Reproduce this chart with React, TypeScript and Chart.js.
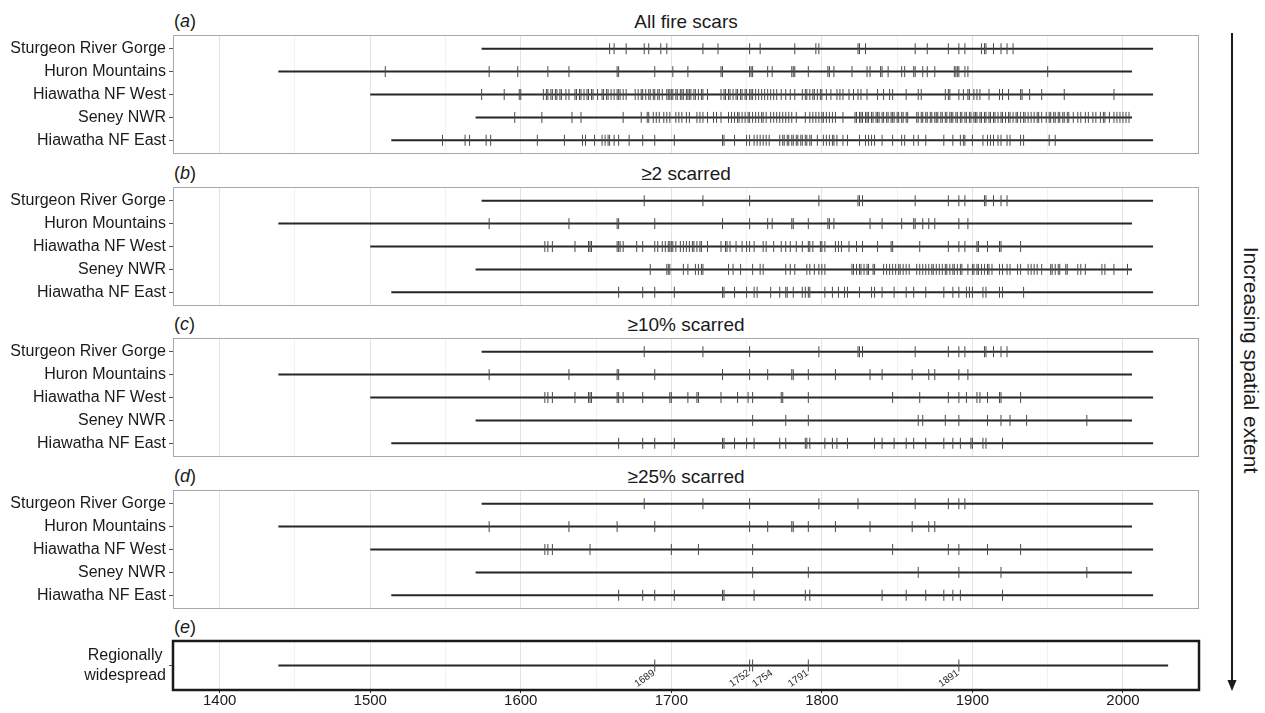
import React, { useEffect, useRef } from "react";
import { Chart, registerables } from "chart.js";

Chart.register(...registerables);

// ---------------- data ----------------
const SITES = [
  "Sturgeon River Gorge",
  "Huron Mountains",
  "Hiawatha NF West",
  "Seney NWR",
  "Hiawatha NF East",
];
const SITE_FIRST_YEAR = [1574, 1439, 1500, 1570, 1514];
const SITE_LAST_YEAR = [2020, 2006, 2020, 2006, 2020];

const PANEL_LETTERS = ["a", "b", "c", "d", "e"];
const PANEL_TITLES = ["All fire scars", "≥2 scarred", "≥10% scarred", "≥25% scarred", ""];

// (a) all fire scars
const ALL_SRG = [1659, 1662, 1670, 1682, 1685, 1693, 1697, 1721, 1731, 1752, 1759, 1782, 1796, 1798, 1824, 1825, 1829, 1862, 1870, 1884, 1891, 1895, 1906, 1908, 1909, 1914, 1919, 1923, 1927];
const ALL_HUR = [1510, 1579, 1598, 1618, 1632, 1664, 1665, 1689, 1701, 1711, 1733, 1734, 1752, 1753, 1754, 1764, 1767, 1780, 1781, 1782, 1791, 1804, 1805, 1808, 1820, 1830, 1832, 1839, 1840, 1844, 1853, 1855, 1861, 1862, 1867, 1870, 1875, 1888, 1889, 1890, 1891, 1895, 1897, 1950];
const ALL_HNW = [1574, 1589, 1599, 1600, 1615, 1617, 1618, 1620, 1621, 1623, 1624, 1626, 1627, 1630, 1632, 1636, 1637, 1639, 1640, 1642, 1644, 1645, 1647, 1648, 1651, 1654, 1655, 1657, 1658, 1660, 1662, 1664, 1665, 1666, 1668, 1670, 1676, 1678, 1680, 1681, 1683, 1685, 1686, 1688, 1689, 1691, 1692, 1694, 1697, 1698, 1699, 1700, 1701, 1703, 1704, 1706, 1707, 1708, 1710, 1711, 1712, 1713, 1715, 1716, 1718, 1720, 1721, 1724, 1733, 1735, 1736, 1738, 1739, 1741, 1743, 1744, 1746, 1747, 1749, 1750, 1752, 1753, 1754, 1756, 1758, 1760, 1762, 1764, 1766, 1768, 1770, 1773, 1776, 1779, 1782, 1787, 1789, 1790, 1792, 1794, 1795, 1797, 1799, 1800, 1803, 1806, 1810, 1812, 1814, 1818, 1821, 1824, 1826, 1830, 1837, 1841, 1845, 1847, 1856, 1864, 1866, 1882, 1884, 1885, 1891, 1894, 1897, 1898, 1901, 1903, 1905, 1911, 1918, 1920, 1924, 1932, 1933, 1938, 1946, 1961, 1994];
const ALL_SEN = [1596, 1614, 1634, 1640, 1668, 1680, 1684, 1685, 1688, 1690, 1692, 1695, 1697, 1699, 1703, 1705, 1707, 1710, 1712, 1717, 1719, 1721, 1724, 1728, 1730, 1733, 1738, 1740, 1742, 1744, 1745, 1747, 1749, 1751, 1752, 1754, 1756, 1758, 1760, 1761, 1763, 1766, 1768, 1770, 1772, 1774, 1776, 1778, 1780, 1783, 1789, 1792, 1794, 1796, 1798, 1800, 1801, 1803, 1805, 1807, 1809, 1814, 1822, 1823, 1825, 1826, 1827, 1829, 1830, 1831, 1833, 1834, 1836, 1837, 1838, 1840, 1841, 1843, 1844, 1846, 1847, 1848, 1850, 1851, 1853, 1854, 1856, 1857, 1863, 1864, 1866, 1867, 1869, 1870, 1872, 1873, 1875, 1876, 1877, 1879, 1880, 1882, 1883, 1885, 1886, 1887, 1889, 1890, 1892, 1893, 1895, 1896, 1898, 1899, 1901, 1902, 1903, 1905, 1906, 1908, 1909, 1911, 1912, 1914, 1915, 1917, 1919, 1920, 1922, 1924, 1925, 1927, 1929, 1930, 1932, 1934, 1935, 1937, 1939, 1941, 1943, 1944, 1946, 1949, 1951, 1952, 1954, 1955, 1957, 1958, 1960, 1961, 1963, 1964, 1967, 1970, 1972, 1975, 1977, 1980, 1982, 1985, 1987, 1988, 1991, 1994, 1996, 1998, 2000, 2002, 2004];
const ALL_HNE = [1548, 1563, 1566, 1577, 1580, 1611, 1629, 1641, 1643, 1649, 1654, 1656, 1658, 1659, 1662, 1665, 1672, 1681, 1689, 1702, 1734, 1735, 1742, 1750, 1752, 1755, 1757, 1759, 1761, 1763, 1765, 1772, 1774, 1775, 1777, 1778, 1780, 1781, 1783, 1784, 1786, 1787, 1789, 1790, 1792, 1793, 1797, 1801, 1803, 1805, 1807, 1808, 1810, 1814, 1817, 1825, 1829, 1831, 1833, 1835, 1840, 1847, 1853, 1855, 1861, 1864, 1869, 1881, 1887, 1892, 1894, 1895, 1900, 1907, 1910, 1912, 1914, 1917, 1919, 1923, 1925, 1932, 1934, 1951, 1955];

// (b) >= 2 trees scarred
const TWO_SRG = [1682, 1721, 1752, 1798, 1824, 1825, 1827, 1862, 1884, 1891, 1895, 1908, 1909, 1914, 1919, 1923];
const TWO_HUR = [1579, 1632, 1664, 1665, 1689, 1734, 1752, 1764, 1767, 1780, 1781, 1791, 1804, 1805, 1808, 1832, 1840, 1853, 1861, 1862, 1867, 1871, 1875, 1891, 1897];
const TWO_HNW = [1616, 1618, 1621, 1636, 1645, 1646, 1647, 1664, 1665, 1666, 1668, 1677, 1681, 1689, 1691, 1694, 1696, 1698, 1699, 1700, 1701, 1703, 1706, 1708, 1710, 1712, 1714, 1715, 1717, 1719, 1720, 1724, 1733, 1736, 1737, 1739, 1743, 1747, 1750, 1752, 1755, 1761, 1763, 1768, 1773, 1776, 1779, 1783, 1787, 1791, 1792, 1794, 1799, 1800, 1802, 1809, 1811, 1813, 1818, 1823, 1827, 1837, 1846, 1847, 1865, 1884, 1891, 1895, 1903, 1904, 1910, 1918, 1919, 1932];
const TWO_SEN = [1686, 1697, 1698, 1699, 1708, 1711, 1716, 1718, 1720, 1721, 1738, 1741, 1746, 1754, 1759, 1761, 1776, 1779, 1782, 1790, 1792, 1795, 1798, 1800, 1802, 1820, 1821, 1823, 1825, 1826, 1828, 1830, 1831, 1834, 1835, 1841, 1843, 1845, 1847, 1849, 1851, 1852, 1854, 1856, 1858, 1863, 1865, 1867, 1869, 1871, 1873, 1874, 1876, 1878, 1880, 1882, 1883, 1885, 1887, 1888, 1890, 1892, 1893, 1897, 1900, 1901, 1903, 1904, 1906, 1908, 1910, 1911, 1913, 1918, 1920, 1923, 1925, 1930, 1932, 1937, 1939, 1941, 1943, 1946, 1952, 1953, 1955, 1957, 1958, 1962, 1963, 1970, 1972, 1975, 1986, 1988, 1994, 2003];
const TWO_HNE = [1665, 1681, 1689, 1702, 1734, 1735, 1742, 1750, 1755, 1757, 1766, 1772, 1776, 1777, 1781, 1787, 1789, 1791, 1792, 1802, 1807, 1811, 1815, 1817, 1825, 1833, 1835, 1840, 1848, 1856, 1861, 1869, 1881, 1887, 1891, 1896, 1898, 1900, 1907, 1909, 1918, 1920, 1934];

// (c) >= 10% scarred
const TEN_SRG = [1682, 1721, 1752, 1798, 1824, 1825, 1827, 1862, 1884, 1891, 1895, 1908, 1909, 1914, 1919, 1923];
const TEN_HUR = [1579, 1632, 1664, 1665, 1689, 1734, 1752, 1764, 1780, 1781, 1791, 1809, 1832, 1840, 1860, 1871, 1875, 1891, 1897];
const TEN_HNW = [1616, 1618, 1621, 1636, 1645, 1646, 1647, 1664, 1665, 1668, 1681, 1699, 1700, 1711, 1717, 1718, 1733, 1744, 1751, 1754, 1773, 1774, 1791, 1847, 1865, 1884, 1891, 1896, 1903, 1905, 1910, 1918, 1919, 1932];
const TEN_SEN = [1754, 1776, 1791, 1864, 1867, 1882, 1891, 1910, 1919, 1925, 1936, 1976];
const TEN_HNE = [1665, 1681, 1689, 1702, 1734, 1735, 1742, 1750, 1755, 1772, 1776, 1789, 1790, 1792, 1802, 1807, 1810, 1817, 1835, 1840, 1848, 1856, 1861, 1869, 1881, 1887, 1892, 1899, 1900, 1907, 1909, 1920];

// (d) >= 25% scarred
const QTR_SRG = [1682, 1721, 1752, 1798, 1824, 1862, 1884, 1891, 1895];
const QTR_HUR = [1579, 1632, 1664, 1689, 1752, 1764, 1780, 1781, 1791, 1809, 1832, 1860, 1871, 1875];
const QTR_HNW = [1616, 1618, 1621, 1646, 1700, 1718, 1754, 1847, 1884, 1891, 1910, 1932];
const QTR_SEN = [1754, 1791, 1864, 1891, 1919, 1976];
const QTR_HNE = [1665, 1681, 1689, 1702, 1734, 1735, 1755, 1789, 1792, 1840, 1856, 1869, 1881, 1887, 1892, 1920];

// (e) regionally widespread
const REGIONAL_LABEL = ["Regionally", "widespread"];
const REGIONAL_FIRST_YEAR = 1439;
const REGIONAL_LAST_YEAR = 2030;
const REGIONAL_EVENTS = [1689, 1752, 1754, 1791, 1891];

const X_GRID_YEARS = [1400, 1450, 1500, 1550, 1600, 1650, 1700, 1750, 1800, 1850, 1900, 1950, 2000];
const X_TICK_LABELS = [1400, 1500, 1600, 1700, 1800, 1900, 2000];
const ARROW_LABEL = "Increasing spatial extent";

// ---------------- styling ----------------
const FONT = '"Liberation Sans", Arial, Helvetica, sans-serif';
const X_MIN = 1369;
const X_MAX = 2050.5;
const AXIS_W = 173;
const PLOT_RIGHT = 1199;
const PAD = 3;
const LABELS_RIGHT_OF_TICK = new Set([1754]);

type PanelProps = {
  top: number;
  boxHeight: number;
  labels: (string | string[])[];
  rows: number[][];
  starts: number[];
  ends: number[];
  regional?: boolean;
};

function FirePanel({ top, boxHeight, labels, rows, starts, ends, regional }: PanelProps) {
  const ref = useRef<HTMLCanvasElement | null>(null);
  const xAxisH = regional ? 24 : 0;
  const canvasW = PLOT_RIGHT + PAD;
  const canvasH = boxHeight + PAD + (regional ? xAxisH : PAD);

  useEffect(() => {
    const canvas = ref.current;
    if (!canvas) return;
    const n = labels.length;
    const datasets: any[] = [];
    for (let i = 0; i < n; i++) {
      datasets.push({
        data: [
          { x: starts[i], y: i + 1 },
          { x: ends[i], y: i + 1 },
        ],
        showLine: true,
        borderColor: "#262626",
        borderWidth: 2,
        pointRadius: 0,
        pointHoverRadius: 0,
        order: 2,
      });
      datasets.push({
        data: rows[i].map((yr) => ({ x: yr, y: i + 1 })),
        showLine: false,
        pointStyle: "line",
        pointRotation: 90,
        pointRadius: regional ? 6 : 5.5,
        pointBorderWidth: 1,
        pointBorderColor: "#4a4a4a",
        pointBackgroundColor: "rgba(0,0,0,0)",
        order: 1,
      });
    }

    const borderPlugin = {
      id: "panelBorder",
      afterDraw(chart: any) {
        const { ctx, chartArea: a } = chart;
        ctx.save();
        if (regional) {
          ctx.strokeStyle = "#1a1a1a";
          ctx.lineWidth = 2.5;
          ctx.strokeRect(a.left, a.top, a.right - a.left, a.bottom - a.top);
          const yPix = chart.scales.y.getPixelForValue(1);
          ctx.font = `10px ${FONT}`;
          ctx.fillStyle = "#1a1a1a";
          ctx.textAlign = "center";
          ctx.textBaseline = "middle";
          rows[0].forEach((yr) => {
            const px = chart.scales.x.getPixelForValue(yr);
            const side = LABELS_RIGHT_OF_TICK.has(yr) ? 1 : -1;
            ctx.save();
            ctx.translate(px + side * 10, yPix + 13);
            ctx.rotate((-35 * Math.PI) / 180);
            ctx.fillText(String(yr), 0, 0);
            ctx.restore();
          });
        } else {
          ctx.strokeStyle = "#a8a8a8";
          ctx.lineWidth = 1;
          ctx.strokeRect(a.left + 0.5, a.top + 0.5, a.right - a.left - 1, a.bottom - a.top - 1);
        }
        ctx.restore();
      },
    };

    const chart = new Chart(canvas, {
      type: "scatter",
      data: { datasets },
      options: {
        animation: false,
        responsive: false,
        devicePixelRatio: 1,
        events: [],
        layout: {
          autoPadding: false,
          padding: { top: PAD, right: PAD, bottom: regional ? 0 : PAD, left: 0 },
        },
        plugins: { legend: { display: false }, tooltip: { enabled: false }, title: { display: false } },
        scales: {
          x: {
            type: "linear",
            min: X_MIN,
            max: X_MAX,
            afterBuildTicks: (s: any) => {
              s.ticks = X_GRID_YEARS.map((v) => ({ value: v }));
            },
            afterFit: (s: any) => {
              s.height = xAxisH;
              s.paddingLeft = 0;
              s.paddingRight = 0;
              s.paddingTop = 0;
              s.paddingBottom = 0;
            },
            ticks: {
              display: !!regional,
              autoSkip: false,
              maxRotation: 0,
              padding: -1,
              color: "#1a1a1a",
              font: { family: FONT, size: 15 },
              callback: (v: any) => (X_TICK_LABELS.includes(Number(v)) ? String(v) : ""),
            },
            grid: {
              color: (c: any) => (c.tick && c.tick.value % 100 === 0 ? "#e4e4e4" : "#f1f1f1"),
              lineWidth: 1,
              drawTicks: !!regional,
              tickLength: 3,
              tickColor: (c: any) => (c.tick && c.tick.value % 100 === 0 ? "#333333" : "rgba(0,0,0,0)"),
            },
            border: { display: false },
          },
          y: {
            type: "linear",
            reverse: true,
            min: 0.4,
            max: n + 0.6,
            afterBuildTicks: (s: any) => {
              s.ticks = labels.map((_, i) => ({ value: i + 1 }));
            },
            afterFit: (s: any) => {
              s.width = AXIS_W;
              s.paddingTop = 0;
              s.paddingBottom = 0;
              s.paddingLeft = 0;
              s.paddingRight = 0;
            },
            ticks: {
              autoSkip: false,
              padding: 3,
              color: "#1a1a1a",
              crossAlign: regional ? "center" : "near",
              font: { family: FONT, size: 16, lineHeight: 1.2 },
              callback: (_v: any, idx: number) => labels[idx] as any,
            },
            grid: {
              drawOnChartArea: false,
              drawTicks: true,
              tickLength: 4,
              tickColor: "#555555",
            },
            border: { display: false },
          },
        },
      } as any,
      plugins: [borderPlugin],
    });
    return () => chart.destroy();
  }, []);

  return (
    <canvas
      ref={ref}
      width={canvasW}
      height={canvasH}
      style={{ position: "absolute", left: 0, top: top - PAD, width: canvasW, height: canvasH }}
    />
  );
}

const PANEL_TOPS = [35, 187, 338, 490, 641];
const PANEL_BOX_H = [119, 119, 119, 119, 49];

export default function App() {
  const siteRows = [
    [ALL_SRG, ALL_HUR, ALL_HNW, ALL_SEN, ALL_HNE],
    [TWO_SRG, TWO_HUR, TWO_HNW, TWO_SEN, TWO_HNE],
    [TEN_SRG, TEN_HUR, TEN_HNW, TEN_SEN, TEN_HNE],
    [QTR_SRG, QTR_HUR, QTR_HNW, QTR_SEN, QTR_HNE],
  ];
  const textBase: React.CSSProperties = {
    position: "absolute",
    fontFamily: FONT,
    color: "#1a1a1a",
    whiteSpace: "nowrap",
    lineHeight: 1,
  };
  return (
    <div
      style={{
        position: "fixed",
        left: 0,
        top: 0,
        width: 1265,
        height: 713,
        background: "#ffffff",
        overflow: "hidden",
      }}
    >
      {siteRows.map((rows, p) => (
        <FirePanel
          key={p}
          top={PANEL_TOPS[p]}
          boxHeight={PANEL_BOX_H[p]}
          labels={SITES}
          rows={rows}
          starts={SITE_FIRST_YEAR}
          ends={SITE_LAST_YEAR}
        />
      ))}
      <FirePanel
        top={PANEL_TOPS[4]}
        boxHeight={PANEL_BOX_H[4]}
        labels={[REGIONAL_LABEL]}
        rows={[REGIONAL_EVENTS]}
        starts={[REGIONAL_FIRST_YEAR]}
        ends={[REGIONAL_LAST_YEAR]}
        regional
      />
      {PANEL_LETTERS.map((l, p) => (
        <div
          key={"l" + l}
          style={{ ...textBase, left: 174, top: PANEL_TOPS[p] - 14.5, transform: "translateY(-50%)", fontSize: 18 }}
        >
          (<i>{l}</i>)
        </div>
      ))}
      {PANEL_TITLES.map((t, p) =>
        t ? (
          <div
            key={"t" + p}
            style={{
              ...textBase,
              left: (AXIS_W + PLOT_RIGHT) / 2,
              top: PANEL_TOPS[p] - 14.5,
              transform: "translate(-50%, -50%)",
              fontSize: 19,
            }}
          >
            {t}
          </div>
        ) : null
      )}
      <svg
        width={30}
        height={680}
        style={{ position: "absolute", left: 1217, top: 25 }}
      >
        <line x1={15} y1={8} x2={15} y2={657} stroke="#1a1a1a" strokeWidth={2} />
        <polygon points="10.5,655 19.5,655 15,666" fill="#1a1a1a" />
      </svg>
      <div
        style={{
          ...textBase,
          left: 1251,
          top: 360,
          transform: "translate(-50%, -50%) rotate(90deg)",
          fontSize: 21,
        }}
      >
        {ARROW_LABEL}
      </div>
    </div>
  );
}
